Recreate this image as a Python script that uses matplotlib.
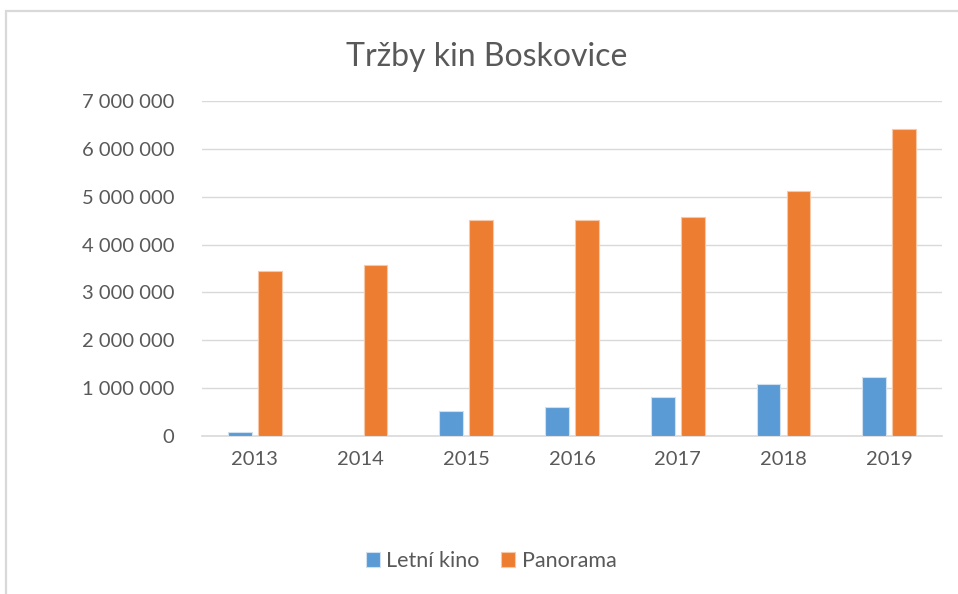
import numpy as np
import matplotlib.pyplot as plt
from matplotlib.patches import Rectangle
from matplotlib.ticker import FuncFormatter

years = ["2013", "2014", "2015", "2016", "2017", "2018", "2019"]
letni_kino = [75000, 0, 520000, 600000, 820000, 1090000, 1230000]
panorama = [3450000, 3570000, 4510000, 4510000, 4580000, 5120000, 6410000]

plt.rcParams['font.family'] = ['Lato', 'DejaVu Sans']

fig = plt.figure(figsize=(9.58, 5.94), dpi=100)
ax = fig.add_axes([202/958, 1 - 436/594, 740/958, 335/594])

# chart frame (like the Excel chart area border)
fig.patches.append(Rectangle((6/958, -0.05), 1.1, 1 - 10.5/594 + 0.05,
                             transform=fig.transFigure, fill=False,
                             edgecolor='#d9d9d9', linewidth=1.6))

x = np.arange(len(years))
w = 0.225
ax.bar(x - 0.142, letni_kino, w, color='#5B9BD5', edgecolor='#cfe0f1',
       linewidth=0.8, label='Letní kino', zorder=3)
ax.bar(x + 0.142, panorama, w, color='#ED7D31', edgecolor='#f7c8a8',
       linewidth=0.8, label='Panorama', zorder=3)

ax.set_xlim(-0.5, len(years) - 0.5)
ax.set_ylim(0, 7000000)
ax.set_yticks(np.arange(0, 7000001, 1000000))
ax.yaxis.set_major_formatter(FuncFormatter(lambda v, p: f"{int(v):,}".replace(",", " ")))
ax.set_xticks(x)
ax.set_xticklabels(years)

ax.grid(axis='y', color='#d9d9d9', linewidth=1, zorder=0)
for s in ['top', 'right', 'left']:
    ax.spines[s].set_visible(False)
ax.spines['bottom'].set_color('#d9d9d9')
ax.spines['bottom'].set_linewidth(1.2)
ax.tick_params(axis='both', length=0, labelsize=14.5, labelcolor='#595959')
ax.tick_params(axis='y', pad=20)
ax.tick_params(axis='x', pad=11)

fig.text(487/958, 1 - 57/594, "Tržby kin Boskovice", ha='center', va='center',
         fontsize=23, color='#595959')

fig.legend(loc='center', bbox_to_anchor=(491/958, 1 - 561/594), ncol=2,
           frameon=False, fontsize=15.5, labelcolor='#595959',
           handlelength=0.65, handleheight=0.65, handletextpad=0.3,
           columnspacing=1.0)

fig.savefig("out.png", dpi=100)
